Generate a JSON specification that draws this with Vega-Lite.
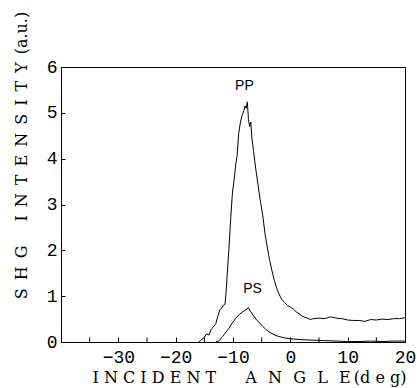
{
  "$schema": "https://vega.github.io/schema/vega-lite/v6.json",
  "width": 344,
  "height": 275,
  "autosize": "none",
  "padding": {"left": 61, "top": 67, "right": 12, "bottom": 46},
  "background": "white",
  "config": {
    "view": {"stroke": "black", "strokeWidth": 1},
    "axis": {"grid": false, "domainColor": "black", "tickColor": "black", "labelColor": "black", "titleColor": "black", "labelFont": "Liberation Mono", "labelFontSize": 18, "titleFont": "DejaVu Serif", "titleFontSize": 16, "titleFontWeight": "normal"}
  },
  "datasets": {
    "curves": [
      {"angle": -16.0, "intensity": 0.00, "pol": "PP"},
      {"angle": -15.6, "intensity": 0.04, "pol": "PP"},
      {"angle": -15.0, "intensity": 0.10, "pol": "PP"},
      {"angle": -14.6, "intensity": 0.18, "pol": "PP"},
      {"angle": -14.2, "intensity": 0.15, "pol": "PP"},
      {"angle": -13.8, "intensity": 0.28, "pol": "PP"},
      {"angle": -13.4, "intensity": 0.33, "pol": "PP"},
      {"angle": -13.0, "intensity": 0.40, "pol": "PP"},
      {"angle": -12.6, "intensity": 0.58, "pol": "PP"},
      {"angle": -12.3, "intensity": 0.70, "pol": "PP"},
      {"angle": -12.0, "intensity": 0.74, "pol": "PP"},
      {"angle": -11.7, "intensity": 0.80, "pol": "PP"},
      {"angle": -11.4, "intensity": 0.82, "pol": "PP"},
      {"angle": -11.2, "intensity": 1.10, "pol": "PP"},
      {"angle": -11.0, "intensity": 1.50, "pol": "PP"},
      {"angle": -10.7, "intensity": 2.05, "pol": "PP"},
      {"angle": -10.4, "intensity": 2.70, "pol": "PP"},
      {"angle": -10.1, "intensity": 3.25, "pol": "PP"},
      {"angle": -9.8, "intensity": 3.55, "pol": "PP"},
      {"angle": -9.5, "intensity": 3.90, "pol": "PP"},
      {"angle": -9.3, "intensity": 4.05, "pol": "PP"},
      {"angle": -9.0, "intensity": 4.55, "pol": "PP"},
      {"angle": -8.7, "intensity": 4.80, "pol": "PP"},
      {"angle": -8.4, "intensity": 4.95, "pol": "PP"},
      {"angle": -8.1, "intensity": 5.05, "pol": "PP"},
      {"angle": -7.9, "intensity": 5.15, "pol": "PP"},
      {"angle": -7.7, "intensity": 5.10, "pol": "PP"},
      {"angle": -7.5, "intensity": 5.24, "pol": "PP"},
      {"angle": -7.3, "intensity": 4.85, "pol": "PP"},
      {"angle": -7.1, "intensity": 4.70, "pol": "PP"},
      {"angle": -6.9, "intensity": 4.80, "pol": "PP"},
      {"angle": -6.7, "intensity": 4.45, "pol": "PP"},
      {"angle": -6.4, "intensity": 4.15, "pol": "PP"},
      {"angle": -6.0, "intensity": 3.75, "pol": "PP"},
      {"angle": -5.6, "intensity": 3.40, "pol": "PP"},
      {"angle": -5.2, "intensity": 3.05, "pol": "PP"},
      {"angle": -4.8, "intensity": 2.75, "pol": "PP"},
      {"angle": -4.4, "intensity": 2.35, "pol": "PP"},
      {"angle": -4.0, "intensity": 2.05, "pol": "PP"},
      {"angle": -3.6, "intensity": 1.78, "pol": "PP"},
      {"angle": -3.2, "intensity": 1.55, "pol": "PP"},
      {"angle": -2.8, "intensity": 1.35, "pol": "PP"},
      {"angle": -2.4, "intensity": 1.18, "pol": "PP"},
      {"angle": -2.0, "intensity": 1.05, "pol": "PP"},
      {"angle": -1.5, "intensity": 0.93, "pol": "PP"},
      {"angle": -1.0, "intensity": 0.86, "pol": "PP"},
      {"angle": -0.5, "intensity": 0.80, "pol": "PP"},
      {"angle": 0.0, "intensity": 0.76, "pol": "PP"},
      {"angle": 0.5, "intensity": 0.72, "pol": "PP"},
      {"angle": 1.0, "intensity": 0.66, "pol": "PP"},
      {"angle": 1.5, "intensity": 0.62, "pol": "PP"},
      {"angle": 2.0, "intensity": 0.57, "pol": "PP"},
      {"angle": 2.5, "intensity": 0.54, "pol": "PP"},
      {"angle": 3.0, "intensity": 0.52, "pol": "PP"},
      {"angle": 3.5, "intensity": 0.49, "pol": "PP"},
      {"angle": 4.0, "intensity": 0.51, "pol": "PP"},
      {"angle": 5.0, "intensity": 0.52, "pol": "PP"},
      {"angle": 6.0, "intensity": 0.51, "pol": "PP"},
      {"angle": 7.0, "intensity": 0.55, "pol": "PP"},
      {"angle": 8.0, "intensity": 0.52, "pol": "PP"},
      {"angle": 9.0, "intensity": 0.51, "pol": "PP"},
      {"angle": 10.0, "intensity": 0.48, "pol": "PP"},
      {"angle": 11.0, "intensity": 0.47, "pol": "PP"},
      {"angle": 12.0, "intensity": 0.47, "pol": "PP"},
      {"angle": 13.0, "intensity": 0.45, "pol": "PP"},
      {"angle": 14.0, "intensity": 0.49, "pol": "PP"},
      {"angle": 15.0, "intensity": 0.48, "pol": "PP"},
      {"angle": 16.0, "intensity": 0.50, "pol": "PP"},
      {"angle": 17.0, "intensity": 0.49, "pol": "PP"},
      {"angle": 18.0, "intensity": 0.51, "pol": "PP"},
      {"angle": 19.0, "intensity": 0.51, "pol": "PP"},
      {"angle": 20.0, "intensity": 0.53, "pol": "PP"},
      {"angle": -13.0, "intensity": 0.00, "pol": "PS"},
      {"angle": -12.4, "intensity": 0.03, "pol": "PS"},
      {"angle": -11.8, "intensity": 0.12, "pol": "PS"},
      {"angle": -11.2, "intensity": 0.22, "pol": "PS"},
      {"angle": -10.7, "intensity": 0.30, "pol": "PS"},
      {"angle": -10.1, "intensity": 0.42, "pol": "PS"},
      {"angle": -9.5, "intensity": 0.52, "pol": "PS"},
      {"angle": -8.9, "intensity": 0.60, "pol": "PS"},
      {"angle": -8.3, "intensity": 0.66, "pol": "PS"},
      {"angle": -7.8, "intensity": 0.70, "pol": "PS"},
      {"angle": -7.3, "intensity": 0.75, "pol": "PS"},
      {"angle": -6.9, "intensity": 0.66, "pol": "PS"},
      {"angle": -6.4, "intensity": 0.57, "pol": "PS"},
      {"angle": -6.0, "intensity": 0.50, "pol": "PS"},
      {"angle": -5.4, "intensity": 0.42, "pol": "PS"},
      {"angle": -4.8, "intensity": 0.34, "pol": "PS"},
      {"angle": -4.3, "intensity": 0.28, "pol": "PS"},
      {"angle": -3.7, "intensity": 0.22, "pol": "PS"},
      {"angle": -3.0, "intensity": 0.17, "pol": "PS"},
      {"angle": -2.5, "intensity": 0.14, "pol": "PS"},
      {"angle": -2.0, "intensity": 0.12, "pol": "PS"},
      {"angle": -1.0, "intensity": 0.09, "pol": "PS"},
      {"angle": 0.0, "intensity": 0.07, "pol": "PS"},
      {"angle": 2.0, "intensity": 0.05, "pol": "PS"},
      {"angle": 4.0, "intensity": 0.04, "pol": "PS"},
      {"angle": 6.0, "intensity": 0.03, "pol": "PS"},
      {"angle": 8.0, "intensity": 0.02, "pol": "PS"},
      {"angle": 10.0, "intensity": 0.01, "pol": "PS"},
      {"angle": 12.0, "intensity": 0.01, "pol": "PS"},
      {"angle": 14.0, "intensity": 0.02, "pol": "PS"},
      {"angle": 16.0, "intensity": 0.01, "pol": "PS"},
      {"angle": 18.0, "intensity": 0.02, "pol": "PS"},
      {"angle": 20.0, "intensity": 0.02, "pol": "PS"}
    ],
    "labels": [
      {"angle": -8.0, "intensity": 5.59, "text": "PP"},
      {"angle": -6.6, "intensity": 1.16, "text": "PS"}
    ],
    "minor": [
      {"angle": -35, "lo": 0, "hi": 0.1},
      {"angle": -25, "lo": 0, "hi": 0.1},
      {"angle": -15, "lo": 0, "hi": 0.1},
      {"angle": -5, "lo": 0, "hi": 0.1},
      {"angle": 5, "lo": 0, "hi": 0.1},
      {"angle": 15, "lo": 0, "hi": 0.1}
    ]
  },
  "layer": [
    {
      "data": {"name": "curves"},
      "mark": {"type": "line", "color": "black", "strokeWidth": 1, "clip": true},
      "encoding": {
        "x": {"field": "angle", "type": "quantitative", "scale": {"domain": [-40, 20], "nice": false},
          "axis": {"title": "I N C I D E N T\u2003\u2002 A\u2002\u2009N\u2002\u2009G\u2002\u2009L\u2002\u2009E\u2009(d e g)", "values": [-30, -20, -10, 0, 10, 20], "tickSize": -5, "labelPadding": 11, "labelFlush": false, "labelOverlap": false, "titleX": 31, "titleY": 40, "titleAlign": "left", "titleAnchor": "start", "titleBaseline": "alphabetic"}},
        "y": {"field": "intensity", "type": "quantitative", "scale": {"domain": [0, 6], "nice": false},
          "axis": {"title": "S\u2002H\u2002G\u2003\u2002I\u2002N\u2002T\u2002E\u2002N\u2002S\u2002I\u2002T\u2002Y\u2002(a.u.)", "values": [0, 1, 2, 3, 4, 5, 6], "tickSize": -4, "labelPadding": 8, "labelFlush": false, "labelOverlap": false, "titleX": -35, "titleY": 88, "titleAlign": "center", "titleBaseline": "alphabetic", "titleAngle": -90}},
        "detail": {"field": "pol", "type": "nominal"}
      }
    },
    {
      "data": {"name": "minor"},
      "mark": {"type": "rule", "color": "black", "strokeWidth": 1},
      "encoding": {
        "x": {"field": "angle", "type": "quantitative"},
        "y": {"field": "lo", "type": "quantitative"},
        "y2": {"field": "hi"}
      }
    },
    {
      "data": {"name": "labels"},
      "mark": {"type": "text", "font": "Liberation Sans", "fontSize": 14, "color": "black"},
      "encoding": {
        "x": {"field": "angle", "type": "quantitative"},
        "y": {"field": "intensity", "type": "quantitative"},
        "text": {"field": "text", "type": "nominal"}
      }
    }
  ]
}
